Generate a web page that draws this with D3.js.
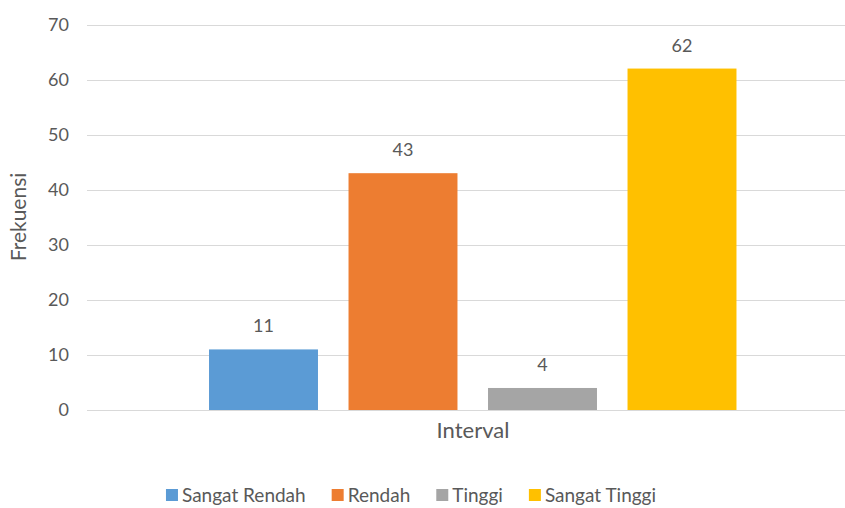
<!DOCTYPE html>
<html><head><meta charset="utf-8">
<script src="https://cdn.jsdelivr.net/npm/d3@7/dist/d3.min.js"></script>
<style>body{margin:0;background:#fff}svg{display:block}</style>
</head><body>
<svg id="c" width="845" height="508"></svg>
<script>
const categories = ["Interval"];
const seriesNames = ["Sangat Rendah", "Rendah", "Tinggi", "Sangat Tinggi"];
const seriesValues = [11, 43, 4, 62];
const seriesColors = ["#5b9bd5", "#ed7d31", "#a5a5a5", "#ffc000"];
const yTicks = [0, 10, 20, 30, 40, 50, 60, 70];

const svg = d3.select("#c");
const font = "Lato, sans-serif";
const txt = "#595959";
const plotL = 87, plotR = 845, y0 = 410, yTop = 24.5;

const y = d3.scaleLinear().domain([0, 70]).range([y0, yTop]);
const x = d3.scaleBand().domain(seriesNames).range([193.75, 751.75]).paddingInner(0.219).paddingOuter(0.1095);

// gridlines
svg.append("g").selectAll("line").data(yTicks).join("line")
  .attr("x1", plotL).attr("x2", plotR)
  .attr("y1", d => Math.round(y(d)) + 0.5).attr("y2", d => Math.round(y(d)) + 0.5)
  .attr("stroke", "#d9d9d9").attr("stroke-width", 1);

// y axis labels
const yAxis = d3.axisLeft(y).tickValues(yTicks).tickSize(0).tickPadding(0);
const ga = svg.append("g").attr("transform", "translate(69,0)").call(yAxis);
ga.select(".domain").remove();
ga.selectAll("text").attr("font-family", font).attr("font-size", 18).attr("fill", txt);

// bars
svg.append("g").selectAll("rect").data(seriesNames).join("rect")
  .attr("x", d => x(d)).attr("width", x.bandwidth())
  .attr("y", (d, i) => y(seriesValues[i])).attr("height", (d, i) => y0 - y(seriesValues[i]))
  .attr("fill", (d, i) => seriesColors[i]);

// value labels
svg.append("g").selectAll("text").data(seriesNames).join("text")
  .attr("x", d => x(d) + x.bandwidth() / 2)
  .attr("y", (d, i) => y(seriesValues[i]) - 17)
  .attr("text-anchor", "middle").attr("font-family", font).attr("font-size", 18).attr("fill", txt)
  .text((d, i) => seriesValues[i]);

// x category label
svg.append("text").attr("x", 473).attr("y", 438).attr("text-anchor", "middle")
  .attr("font-family", font).attr("font-size", 22).attr("fill", txt).text(categories[0]);

// y title
svg.append("text").attr("transform", "translate(26,217) rotate(-90)").attr("text-anchor", "middle")
  .attr("font-family", font).attr("font-size", 21).attr("fill", txt).text("Frekuensi");

// legend
const lg = svg.append("g");
let cx = 0;
seriesNames.forEach((n, i) => {
  const g = lg.append("g").attr("transform", `translate(${cx},0)`);
  g.append("rect").attr("x", 0).attr("y", -6).attr("width", 12).attr("height", 12).attr("fill", seriesColors[i]);
  const t = g.append("text").attr("x", 16).attr("y", 0).attr("dy", "0.35em")
    .attr("font-family", font).attr("font-size", 19).attr("fill", txt).text(n);
  cx += 16 + t.node().getComputedTextLength() + 26;
});
const totalW = cx - 26;
lg.attr("transform", `translate(${411 - totalW / 2},495)`);
</script>
</body></html>
